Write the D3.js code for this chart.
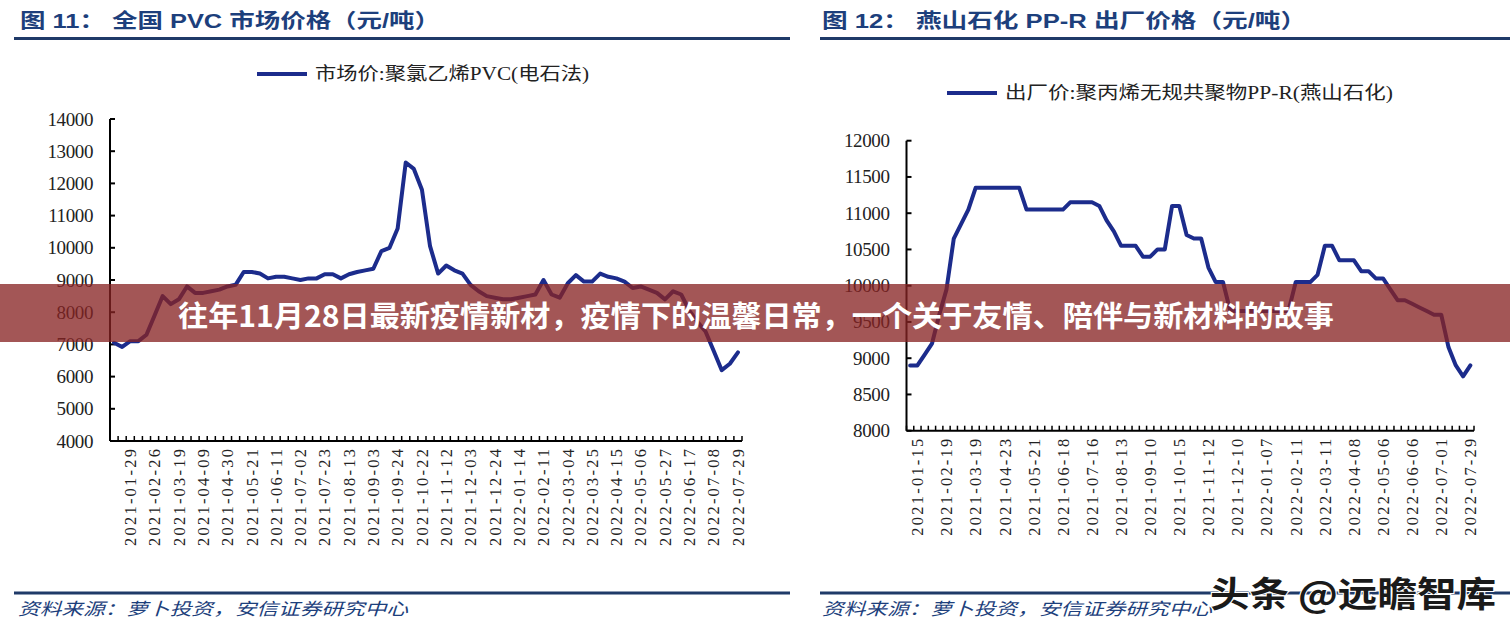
<!DOCTYPE html>
<html><head><meta charset="utf-8">
<script src="https://cdn.jsdelivr.net/npm/d3@7/dist/d3.min.js"></script>
<style>body{margin:0;background:#fff;overflow:hidden}</style>
</head><body><svg id="c" width="1510" height="628"></svg>
<script>
// ---------- data ----------
const pvcDates = ["2021-01-15","2021-01-22","2021-01-29","2021-02-05","2021-02-19","2021-02-26","2021-03-05","2021-03-12","2021-03-19","2021-03-26","2021-04-02","2021-04-09","2021-04-16","2021-04-23","2021-04-30","2021-05-07","2021-05-14","2021-05-21","2021-05-28","2021-06-04","2021-06-11","2021-06-18","2021-06-25","2021-07-02","2021-07-09","2021-07-16","2021-07-23","2021-07-30","2021-08-06","2021-08-13","2021-08-20","2021-08-27","2021-09-03","2021-09-10","2021-09-17","2021-09-24","2021-10-08","2021-10-15","2021-10-22","2021-10-29","2021-11-05","2021-11-12","2021-11-19","2021-11-26","2021-12-03","2021-12-10","2021-12-17","2021-12-24","2021-12-31","2022-01-07","2022-01-14","2022-01-21","2022-01-28","2022-02-11","2022-02-18","2022-02-25","2022-03-04","2022-03-11","2022-03-18","2022-03-25","2022-04-01","2022-04-08","2022-04-15","2022-04-22","2022-04-29","2022-05-06","2022-05-13","2022-05-20","2022-05-27","2022-06-03","2022-06-10","2022-06-17","2022-06-24","2022-07-01","2022-07-08","2022-07-15","2022-07-22","2022-07-29"];
const pvcValues = [7050,6920,7100,7100,7300,7900,8500,8250,8400,8800,8600,8600,8650,8700,8800,8850,9250,9250,9200,9050,9100,9100,9050,9000,9050,9050,9180,9180,9050,9180,9250,9300,9350,9900,10000,10600,12650,12450,11800,10050,9200,9450,9300,9200,8850,8650,8500,8450,8400,8400,8450,8500,8550,9000,8550,8450,8900,9150,8950,8950,9200,9100,9050,8950,8750,8800,8700,8600,8400,8650,8550,8050,7700,7400,6800,6200,6400,6750];
const pvcYTicks = [4000,5000,6000,7000,8000,9000,10000,11000,12000,13000,14000];

const pprDates = ["2021-01-08","2021-01-15","2021-01-22","2021-01-29","2021-02-05","2021-02-19","2021-02-26","2021-03-05","2021-03-12","2021-03-19","2021-03-26","2021-04-09","2021-04-16","2021-04-23","2021-04-30","2021-05-07","2021-05-14","2021-05-21","2021-05-28","2021-06-04","2021-06-11","2021-06-18","2021-06-25","2021-07-02","2021-07-09","2021-07-16","2021-07-23","2021-07-30","2021-08-06","2021-08-13","2021-08-20","2021-08-27","2021-09-03","2021-09-10","2021-09-17","2021-09-24","2021-10-08","2021-10-15","2021-10-22","2021-10-29","2021-11-05","2021-11-12","2021-11-19","2021-11-26","2021-12-03","2021-12-10","2021-12-17","2021-12-24","2021-12-31","2022-01-07","2022-01-14","2022-01-21","2022-01-28","2022-02-11","2022-02-18","2022-02-25","2022-03-04","2022-03-11","2022-03-18","2022-03-25","2022-04-01","2022-04-08","2022-04-15","2022-04-22","2022-04-29","2022-05-06","2022-05-13","2022-05-20","2022-05-27","2022-06-06","2022-06-10","2022-06-17","2022-06-24","2022-07-01","2022-07-08","2022-07-15","2022-07-22","2022-07-29"];
const pprValues = [8900,8900,9050,9200,9600,9950,10650,10850,11050,11350,11350,11350,11350,11350,11350,11350,11050,11050,11050,11050,11050,11050,11150,11150,11150,11150,11100,10900,10750,10550,10550,10550,10400,10400,10500,10500,11100,11100,10700,10650,10650,10250,10050,10050,9650,9650,9650,9650,9650,9650,9650,9650,9650,10050,10050,10050,10150,10550,10550,10350,10350,10350,10200,10200,10100,10100,9950,9800,9800,9750,9700,9650,9600,9600,9150,8900,8750,8900];
const pprYTicks = [8000,8500,9000,9500,10000,10500,11000,11500,12000];

const titleTexts = ["图 11： 全国 PVC 市场价格（元/吨）", "图 12： 燕山石化 PP-R 出厂价格（元/吨）"];
const legendTexts = ["市场价:聚氯乙烯PVC(电石法)", "出厂价:聚丙烯无规共聚物PP-R(燕山石化)"];
const sourceText = "资料来源：萝卜投资，安信证券研究中心";
const bannerText = "往年11月28日最新疫情新材，疫情下的温馨日常，一个关于友情、陪伴与新材料的故事";
const watermarkText = "头条 @远瞻智库";

// ---------- drawing ----------
const svg = d3.select("#c");
const NAVY = "#1c2c8c";
const RULE = "#1f3a68";
const TITLE = "#1d3f7c";
const SERIF = "'Liberation Serif','Times New Roman','Noto Sans CJK SC',serif";
const CJK = "'Noto Sans CJK SC','Liberation Sans',sans-serif";

function panel(o) {
  const g = svg.append("g");
  g.append("text").attr("x", o.titleX).attr("y", 21).attr("dominant-baseline","central")
    .attr("font-family", "'Liberation Sans','Noto Sans CJK SC',sans-serif").attr("font-weight","bold")
    .attr("font-size", 20).attr("fill", TITLE)
    .attr("textLength", o.titleW).attr("lengthAdjust","spacingAndGlyphs").text(o.title);
  g.append("line").attr("x1", o.ruleX1).attr("x2", o.ruleX2).attr("y1", 38.5).attr("y2", 38.5)
    .attr("stroke", RULE).attr("stroke-width", 3);
  g.append("line").attr("x1", o.ruleX1).attr("x2", o.ruleX2).attr("y1", 593).attr("y2", 593)
    .attr("stroke", RULE).attr("stroke-width", 3);
  g.append("text").attr("x", o.srcX).attr("y", 607).attr("dominant-baseline","central")
    .attr("font-family", CJK).attr("font-style","italic").attr("font-size", 17).attr("fill", TITLE)
    .attr("textLength", 390).attr("lengthAdjust","spacingAndGlyphs").text(sourceText);

  g.append("line").attr("x1", o.legX).attr("x2", o.legX + 50).attr("y1", o.legY).attr("y2", o.legY)
    .attr("stroke", NAVY).attr("stroke-width", 4);
  g.append("text").attr("x", o.legX + 58).attr("y", o.legY).attr("dominant-baseline","central")
    .attr("font-family", SERIF).attr("font-size", 18).attr("fill", "#222")
    .attr("textLength", o.legW).attr("lengthAdjust","spacingAndGlyphs").text(o.legend);

  const x = d3.scalePoint().domain(o.dates).range([o.x0, o.x1]).padding(0.5);
  const y = d3.scaleLinear().domain([o.ticks[0], o.ticks[o.ticks.length-1]]).range([o.yBot, o.yTop]);
  const step = x.step();

  g.append("line").attr("x1", o.x0).attr("x2", o.x0).attr("y1", o.yTop).attr("y2", o.yBot)
    .attr("stroke", "#000").attr("stroke-width", 2);
  g.selectAll(".yt").data(o.ticks).enter().append("line")
    .attr("x1", o.x0).attr("x2", o.x0 + 5).attr("y1", d => y(d)).attr("y2", d => y(d))
    .attr("stroke", "#000").attr("stroke-width", 2);
  g.selectAll(".yl").data(o.ticks).enter().append("text")
    .attr("x", o.x0 - 17).attr("y", d => y(d)).attr("text-anchor","end").attr("dominant-baseline","central")
    .attr("font-family", SERIF).attr("font-size", 19).attr("letter-spacing", -0.4).attr("fill", "#222")
    .text(d => d);

  g.append("line").attr("x1", o.x0).attr("x2", o.x1).attr("y1", o.yBot).attr("y2", o.yBot)
    .attr("stroke", "#000").attr("stroke-width", 2);
  g.selectAll(".xt").data(d3.range(o.dates.length + 1)).enter().append("line")
    .attr("x1", i => o.x0 + i * step).attr("x2", i => o.x0 + i * step)
    .attr("y1", o.yBot).attr("y2", o.yBot - 5)
    .attr("stroke", "#000").attr("stroke-width", 1.5);
  const lab = o.dates.filter((d, i) => i % o.every === o.offset);
  g.selectAll(".xl").data(lab).enter().append("text")
    .attr("transform", d => `translate(${x(d)},${o.yBot + 8}) rotate(-90)`)
    .attr("text-anchor","end").attr("dy","0.35em")
    .attr("font-family", SERIF).attr("font-size", 16.5).attr("fill", "#222")
    .attr("textLength", 97).attr("lengthAdjust","spacing")
    .text(d => d);

  const line = d3.line().x((d, i) => x(o.dates[i])).y(d => y(d));
  g.append("path").datum(o.values).attr("d", line)
    .attr("fill","none").attr("stroke", NAVY).attr("stroke-width", 4)
    .attr("stroke-linejoin","round").attr("stroke-linecap","round");
}

panel({title: titleTexts[0], titleX: 20, titleW: 420, ruleX1: 14, ruleX2: 790, srcX: 18,
  legend: legendTexts[0], legX: 257, legY: 74, legW: 274,
  dates: pvcDates, values: pvcValues, ticks: pvcYTicks,
  x0: 110, x1: 742, yTop: 119, yBot: 441, every: 3, offset: 2});
panel({title: titleTexts[1], titleX: 822, titleW: 484, ruleX1: 820, ruleX2: 1510, srcX: 822,
  legend: legendTexts[1], legX: 947, legY: 93, legW: 388,
  dates: pprDates, values: pprValues, ticks: pprYTicks,
  x0: 906.5, x1: 1474, yTop: 140.7, yBot: 430.7, every: 4, offset: 1});

// watermark
svg.append("text").attr("x", 1210).attr("y", 591).attr("dominant-baseline","central")
  .attr("font-family", CJK).attr("font-weight", "bold").attr("font-size", 35).attr("fill", "#1a1a1a")
  .attr("stroke", "#fff").attr("stroke-width", 2).attr("paint-order","stroke")
  .attr("textLength", 286).attr("lengthAdjust","spacingAndGlyphs").text(watermarkText);

// banner
svg.append("rect").attr("x", 0).attr("y", 284).attr("width", 1510).attr("height", 58)
  .attr("fill", "rgb(135,35,35)").attr("fill-opacity", 0.77);
svg.append("text").attr("x", 178).attr("y", 314).attr("dominant-baseline","central")
  .attr("font-family", CJK).attr("font-weight","bold").attr("font-size", 29).attr("fill", "#fff")
  .attr("textLength", 1156).attr("lengthAdjust","spacingAndGlyphs").text(bannerText);
</script></body></html>
